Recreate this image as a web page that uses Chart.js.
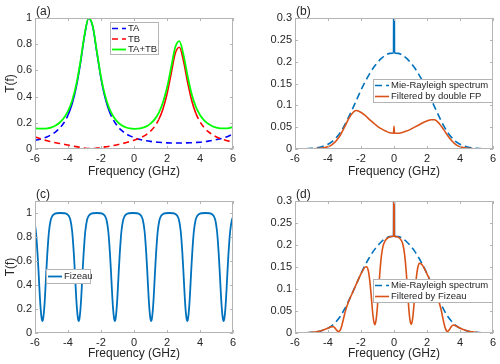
<!DOCTYPE html>
<html>
<head>
<meta charset="utf-8">
<script src="https://cdn.jsdelivr.net/npm/chart.js@4"></script>
<style>
  html, body { margin: 0; padding: 0; background: #fff; }
  #fig { position: relative; width: 500px; height: 364px; }
  .panel { position: absolute; width: 250px; height: 182px; }
  .panel canvas { display: block; }
</style>
</head>
<body>
<div id="fig">
  <div class="panel" style="left:0;top:0"><canvas id="pa" width="250" height="182"></canvas></div>
  <div class="panel" style="left:250px;top:0"><canvas id="pb" width="250" height="182"></canvas></div>
  <div class="panel" style="left:0;top:182px"><canvas id="pc" width="250" height="182"></canvas></div>
  <div class="panel" style="left:250px;top:182px"><canvas id="pd" width="250" height="182"></canvas></div>
</div>
<script>
// (a) two filter transmissions and their sum, sampled every 0.25 GHz
const freqA = [-6, -5.75, -5.5, -5.25, -5, -4.75, -4.5, -4.25, -4, -3.75, -3.5, -3.25, -3, -2.75, -2.5, -2.25,
  -2, -1.75, -1.5, -1.25, -1, -0.75, -0.5, -0.25, 0, 0.25, 0.5, 0.75, 1, 1.25, 1.5, 1.75,
  2, 2.25, 2.5, 2.75, 3, 3.25, 3.5, 3.75, 4, 4.25, 4.5, 4.75, 5, 5.25, 5.5, 5.75, 6];
const ta = [0.066, 0.073, 0.083, 0.094, 0.110, 0.131, 0.160, 0.200, 0.259, 0.345, 0.472, 0.652, 0.862, 0.998, 0.934, 0.736,
  0.538, 0.390, 0.289, 0.221, 0.174, 0.142, 0.118, 0.100, 0.087, 0.077, 0.069, 0.063, 0.058, 0.054, 0.051, 0.049,
  0.047, 0.046, 0.046, 0.046, 0.046, 0.047, 0.048, 0.050, 0.052, 0.056, 0.060, 0.065, 0.072, 0.079, 0.088, 0.100, 0.115];
const tb = [0.092, 0.082, 0.072, 0.063, 0.055, 0.048, 0.042, 0.036, 0.030, 0.024, 0.018, 0.012, 0.007, 0.004, 0.004, 0.007,
  0.011, 0.016, 0.021, 0.027, 0.033, 0.040, 0.048, 0.057, 0.067, 0.078, 0.092, 0.110, 0.136, 0.172, 0.225, 0.304,
  0.420, 0.574, 0.730, 0.777, 0.672, 0.509, 0.368, 0.272, 0.208, 0.163, 0.132, 0.109, 0.092, 0.079, 0.069, 0.060, 0.053];
const taPlusTb = [0.158, 0.155, 0.155, 0.157, 0.165, 0.179, 0.202, 0.236, 0.289, 0.369, 0.490, 0.664, 0.869, 1.000, 0.938, 0.743,
  0.549, 0.406, 0.310, 0.248, 0.207, 0.182, 0.166, 0.157, 0.154, 0.155, 0.161, 0.173, 0.194, 0.226, 0.276, 0.353,
  0.467, 0.620, 0.776, 0.823, 0.718, 0.556, 0.416, 0.322, 0.260, 0.219, 0.192, 0.174, 0.164, 0.158, 0.157, 0.160, 0.168];

// (b) and (d) Mie-Rayleigh spectrum, spike at 0 goes off the top
const mieFreq = [-6, -5.5, -5, -4.5, -4, -3.75, -3.5, -3.25, -3, -2.75, -2.5, -2.25, -2, -1.75, -1.5, -1.25, -1, -0.75,
  -0.5, -0.25, -0.03, 0, 0.03, 0.25, 0.5, 0.75, 1, 1.25, 1.5, 1.75, 2, 2.25, 2.5, 2.75, 3, 3.25, 3.5, 3.75,
  4, 4.5, 5, 5.5, 6];
const mieSpectrum = [0.0001, 0.0004, 0.0015, 0.004, 0.011, 0.017, 0.026, 0.038, 0.054, 0.073, 0.093, 0.114, 0.135, 0.154, 0.171, 0.186, 0.198, 0.208,
  0.215, 0.219, 0.220, 0.6, 0.220, 0.219, 0.215, 0.208, 0.198, 0.186, 0.171, 0.154, 0.135, 0.114, 0.093, 0.073, 0.054, 0.038, 0.026, 0.017,
  0.011, 0.004, 0.0015, 0.0004, 0.0001];

// (b) filtered by double FP
const fpFreq = [-6, -5, -4.5, -4, -3.75, -3.5, -3.25, -3, -2.75, -2.5, -2.3, -2.1, -1.75, -1.5, -1.25, -1, -0.75, -0.5, -0.25,
  -0.03, 0, 0.03, 0.25, 0.5, 0.75, 1, 1.25, 1.5, 1.75, 2, 2.25, 2.45, 2.75, 3, 3.25, 3.5, 3.75, 4, 4.5, 5, 6];
const fpFiltered = [0, 0.0005, 0.0015, 0.005, 0.010, 0.019, 0.032, 0.050, 0.069, 0.083, 0.088, 0.086, 0.077, 0.068, 0.060, 0.052, 0.046, 0.041, 0.037,
  0.036, 0.052, 0.036, 0.036, 0.038, 0.041, 0.045, 0.050, 0.055, 0.060, 0.064, 0.067, 0.067, 0.058, 0.045, 0.031, 0.019, 0.010, 0.005, 0.0015, 0.0005, 0];

// (c) Fizeau transmission
const fizFreq = [
  -6, -5.95, -5.9, -5.85, -5.8, -5.75, -5.7, -5.65, -5.6, -5.55, -5.5, -5.45, -5.4, -5.35, -5.3, -5.25, -5.2, -5.15, -5.05, -4.95, -4.85, -4.7, -4.45,
  -4.2, -4.05, -3.95, -3.85, -3.75, -3.7, -3.65, -3.6, -3.55, -3.5, -3.45, -3.4, -3.35, -3.3, -3.25, -3.2, -3.15, -3.1, -3.05, -3.0, -2.95, -2.85, -2.75, -2.65, -2.5, -2.26,
  -2.01, -1.86, -1.76, -1.66, -1.56, -1.51, -1.46, -1.41, -1.36, -1.31, -1.26, -1.21, -1.16, -1.11, -1.06, -1.01, -0.96, -0.91, -0.86, -0.81, -0.76, -0.66, -0.56, -0.46, -0.31, -0.06,
  0.19, 0.34, 0.44, 0.54, 0.64, 0.69, 0.74, 0.79, 0.84, 0.89, 0.94, 0.99, 1.04, 1.09, 1.14, 1.19, 1.24, 1.29, 1.34, 1.39, 1.44, 1.54, 1.64, 1.74, 1.89, 2.14,
  2.38, 2.53, 2.63, 2.73, 2.83, 2.88, 2.93, 2.98, 3.03, 3.08, 3.13, 3.18, 3.23, 3.28, 3.33, 3.38, 3.43, 3.48, 3.53, 3.58, 3.63, 3.73, 3.83, 3.93, 4.08, 4.33,
  4.58, 4.73, 4.83, 4.93, 5.03, 5.08, 5.13, 5.18, 5.23, 5.28, 5.33, 5.38, 5.43, 5.48, 5.53, 5.58, 5.63, 5.68, 5.73, 5.78, 5.83, 5.93, 6];
const fizeau = [
  0.90, 0.85, 0.77, 0.67, 0.55, 0.42, 0.29, 0.19, 0.125, 0.10, 0.125, 0.19, 0.29, 0.42, 0.55, 0.67, 0.77, 0.85, 0.94, 0.975, 0.99, 0.998, 1.0,
  0.998, 0.99, 0.975, 0.94, 0.85, 0.77, 0.67, 0.55, 0.42, 0.29, 0.19, 0.125, 0.10, 0.125, 0.19, 0.29, 0.42, 0.55, 0.67, 0.77, 0.85, 0.94, 0.975, 0.99, 0.998, 1.0,
  0.998, 0.99, 0.975, 0.94, 0.85, 0.77, 0.67, 0.55, 0.42, 0.29, 0.19, 0.125, 0.10, 0.125, 0.19, 0.29, 0.42, 0.55, 0.67, 0.77, 0.85, 0.94, 0.975, 0.99, 0.998, 1.0,
  0.998, 0.99, 0.975, 0.94, 0.85, 0.77, 0.67, 0.55, 0.42, 0.29, 0.19, 0.125, 0.10, 0.125, 0.19, 0.29, 0.42, 0.55, 0.67, 0.77, 0.85, 0.94, 0.975, 0.99, 0.998, 1.0,
  0.998, 0.99, 0.975, 0.94, 0.85, 0.77, 0.67, 0.55, 0.42, 0.29, 0.19, 0.125, 0.10, 0.125, 0.19, 0.29, 0.42, 0.55, 0.67, 0.77, 0.85, 0.94, 0.975, 0.99, 0.998, 1.0,
  0.998, 0.99, 0.975, 0.94, 0.85, 0.77, 0.67, 0.55, 0.42, 0.29, 0.19, 0.125, 0.10, 0.125, 0.19, 0.29, 0.42, 0.55, 0.67, 0.77, 0.85, 0.94, 0.965];

// (d) spectrum filtered by Fizeau
const fizFiltFreq = [
  -6, -5.55, -5.3, -5.05, -4.85, -4.7, -4.45,
  -4.2, -4.05, -3.95, -3.85, -3.75, -3.7, -3.65, -3.6, -3.55, -3.5, -3.45, -3.4, -3.35, -3.3, -3.25, -3.2, -3.15, -3.1, -3.05, -3.0, -2.95, -2.85, -2.75, -2.65, -2.5, -2.26,
  -2.01, -1.86, -1.76, -1.66, -1.56, -1.51, -1.46, -1.41, -1.36, -1.31, -1.26, -1.21, -1.16, -1.11, -1.06, -1.01, -0.96, -0.91, -0.86, -0.81, -0.76, -0.66, -0.56, -0.46, -0.31, -0.06,
  -0.02, 0, 0.02,
  0.19, 0.34, 0.44, 0.54, 0.64, 0.69, 0.74, 0.79, 0.84, 0.89, 0.94, 0.99, 1.04, 1.09, 1.14, 1.19, 1.24, 1.29, 1.34, 1.39, 1.44, 1.54, 1.64, 1.74, 1.89, 2.14,
  2.38, 2.53, 2.63, 2.73, 2.83, 2.88, 2.93, 2.98, 3.03, 3.08, 3.13, 3.18, 3.23, 3.28, 3.33, 3.38, 3.43, 3.48, 3.53, 3.58, 3.63, 3.73, 3.83, 3.93, 4.08, 4.33,
  4.58, 4.83, 5.03, 5.23, 5.43, 5.63, 5.83, 6];
const fizFiltered = [
  0.0001, 0.0001, 0.0004, 0.0013, 0.0022, 0.003, 0.0047,
  0.0082, 0.0102, 0.0119, 0.0137, 0.0145, 0.0145, 0.0138, 0.0123, 0.0102, 0.0075, 0.0054, 0.0039, 0.0033, 0.0045, 0.0072, 0.0119, 0.0186, 0.0262, 0.034, 0.0416, 0.0491, 0.0615, 0.0712, 0.0802, 0.0928, 0.1132,
  0.1339, 0.1441, 0.1494, 0.1505, 0.1419, 0.1311, 0.1162, 0.097, 0.0753, 0.0529, 0.0352, 0.0235, 0.019, 0.0241, 0.0371, 0.0573, 0.0838, 0.1109, 0.1364, 0.1583, 0.1765, 0.1979, 0.208, 0.2134, 0.2176, 0.2199,
  0.220, 0.6, 0.220,
  0.2189, 0.2154, 0.2106, 0.2011, 0.1794, 0.1615, 0.1396, 0.1135, 0.0858, 0.0587, 0.0381, 0.0248, 0.0196, 0.0242, 0.0363, 0.0548, 0.0783, 0.101, 0.121, 0.1368, 0.1484, 0.1582, 0.1575, 0.1532, 0.1431, 0.1232,
  0.1029, 0.0897, 0.0805, 0.0701, 0.0569, 0.0486, 0.0397, 0.0305, 0.0219, 0.0142, 0.0087, 0.0053, 0.0039, 0.0046, 0.0065, 0.0092, 0.0123, 0.0149, 0.0167, 0.0178, 0.0181, 0.0166, 0.0147, 0.0126, 0.0099, 0.0064,
  0.0036, 0.0023, 0.0012, 0.0004, 0.0001, 0.0002, 0.0003, 0.0001];

const FONT = '"Liberation Sans", Arial, sans-serif';
const INK = '#262626';
const FRAME = '#b4b4b4';

// box, inward ticks, panel letter and a MATLAB-like legend
const matlabAxes = {
  id: 'matlabAxes',
  afterDatasetsDraw(chart, args, opts) {
    const { ctx, chartArea: a, scales: { x, y } } = chart;
    ctx.save();
    ctx.strokeStyle = FRAME;
    ctx.lineWidth = 1;
    ctx.strokeRect(a.left + 0.5, a.top + 0.5, a.right - a.left - 1, a.bottom - a.top - 1);
    ctx.beginPath();
    x.ticks.forEach(t => {
      const px = Math.round(x.getPixelForValue(t.value)) + 0.5;
      ctx.moveTo(px, a.bottom); ctx.lineTo(px, a.bottom - 3);
      ctx.moveTo(px, a.top); ctx.lineTo(px, a.top + 3);
    });
    y.ticks.forEach(t => {
      const py = Math.round(y.getPixelForValue(t.value)) + 0.5;
      ctx.moveTo(a.left, py); ctx.lineTo(a.left + 3, py);
      ctx.moveTo(a.right, py); ctx.lineTo(a.right - 3, py);
    });
    ctx.stroke();

    ctx.fillStyle = INK;
    ctx.font = '12px ' + FONT;
    ctx.textBaseline = 'alphabetic';
    ctx.fillText(opts.label, a.left + 1, a.top - 3);

    const lg = opts.legend;
    ctx.fillStyle = '#fff';
    ctx.fillRect(lg.x, lg.y, lg.w, lg.h);
    ctx.strokeStyle = FRAME;
    ctx.strokeRect(lg.x + 0.5, lg.y + 0.5, lg.w - 1, lg.h - 1);
    ctx.font = '9.5px ' + FONT;
    ctx.textBaseline = 'middle';
    chart.data.datasets.forEach((ds, i) => {
      const ry = lg.rows[i];
      ctx.beginPath();
      ctx.strokeStyle = ds.borderColor;
      ctx.lineWidth = ds.borderWidth;
      ctx.setLineDash(ds.borderDash || []);
      ctx.moveTo(lg.x + 2, ry);
      ctx.lineTo(lg.x + 16, ry);
      ctx.stroke();
      ctx.setLineDash([]);
      ctx.fillStyle = INK;
      ctx.fillText(ds.label, lg.x + 18, ry);
    });
    ctx.restore();
  }
};

function line(label, xs, ys, color, dash, order, width) {
  const ds = {
    label,
    data: xs.map((x, i) => ({ x, y: ys[i] })),
    showLine: true,
    borderColor: color,
    backgroundColor: color,
    borderWidth: width || 1.6,
    borderDash: dash,
    pointRadius: 0,
    cubicInterpolationMode: 'monotone',
    fill: false,
    order
  };
  if (dash.length) {
    // the narrow Mie spike is drawn solid
    ds.segment = { borderDash: c => (c.p0.parsed.y > 0.3 || c.p1.parsed.y > 0.3) ? [] : dash };
  }
  return ds;
}

function panel(id, datasets, cfg) {
  return new Chart(document.getElementById(id), {
    type: 'scatter',
    data: { datasets },
    options: {
      responsive: false,
      animation: false,
      events: [],
      layout: { padding: { top: cfg.top, right: cfg.right, left: 0, bottom: 0 } },
      plugins: {
        legend: { display: false },
        tooltip: { enabled: false },
        matlabAxes: { label: cfg.label, legend: cfg.legend }
      },
      scales: {
        x: {
          type: 'linear', min: -6, max: 6,
          grid: { display: false, drawTicks: false }, border: { display: false },
          ticks: { stepSize: 2, padding: 3, autoSkip: false, maxRotation: 0, color: INK, font: { family: FONT, size: 11 } },
          title: { display: true, text: 'Frequency (GHz)', color: INK, font: { family: FONT, size: 12 }, padding: { top: 0, bottom: 3 } },
          afterFit: s => { s.height = cfg.xHeight; }
        },
        y: {
          min: 0, max: cfg.yMax,
          grid: { display: false, drawTicks: false }, border: { display: false },
          ticks: { stepSize: cfg.yStep, includeBounds: false, padding: 3, color: INK, font: { family: FONT, size: 11 },
                   callback: v => String(+v.toFixed(2)) },
          title: { display: !!cfg.yTitle, text: cfg.yTitle || '', color: INK, font: { family: FONT, size: 12 }, padding: { top: 3, bottom: 0 } },
          afterFit: s => { s.width = cfg.yWidth; }
        }
      }
    },
    plugins: [matlabAxes]
  });
}

const BLUE = '#0072BD', ORANGE = '#D95319';

panel('pa', [
  line('TA', freqA, ta, '#0000FF', [6, 4], 2),
  line('TB', freqA, tb, '#FF0000', [6, 4], 1),
  line('TA+TB', freqA, taPlusTb, '#00FF00', [], 0, 1.8)
], { label: '(a)', yMax: 1, yStep: 0.2, yTitle: 'T(f)', top: 18, right: 17, yWidth: 35, xHeight: 33,
     legend: { x: 110, y: 22, w: 49, h: 33, rows: [28.5, 39, 49.5] } });

panel('pb', [
  line('Mie-Rayleigh spectrum', mieFreq, mieSpectrum, BLUE, [7, 4], 1),
  line('Filtered by double FP', fpFreq, fpFiltered, ORANGE, [], 0)
], { label: '(b)', yMax: 0.3, yStep: 0.05, top: 18, right: 7, yWidth: 45, xHeight: 33,
     legend: { x: 123, y: 79, w: 120, h: 24, rows: [85.5, 96.5] } });

panel('pc', [
  line('Fizeau', fizFreq, fizeau, BLUE, [], 0, 1.8)
], { label: '(c)', yMax: 1.1, yStep: 0.2, yTitle: 'T(f)', top: 19, right: 17, yWidth: 35, xHeight: 31,
     legend: { x: 46, y: 87, w: 45, h: 15, rows: [94.5] } });

panel('pd', [
  line('Mie-Rayleigh spectrum', mieFreq, mieSpectrum, BLUE, [7, 4], 1),
  line('Filtered by Fizeau', fizFiltFreq, fizFiltered, ORANGE, [], 0)
], { label: '(d)', yMax: 0.3, yStep: 0.05, top: 19, right: 7, yWidth: 45, xHeight: 31,
     legend: { x: 123, y: 97, w: 120, h: 24, rows: [103.5, 114.5] } });
</script>
</body>
</html>
